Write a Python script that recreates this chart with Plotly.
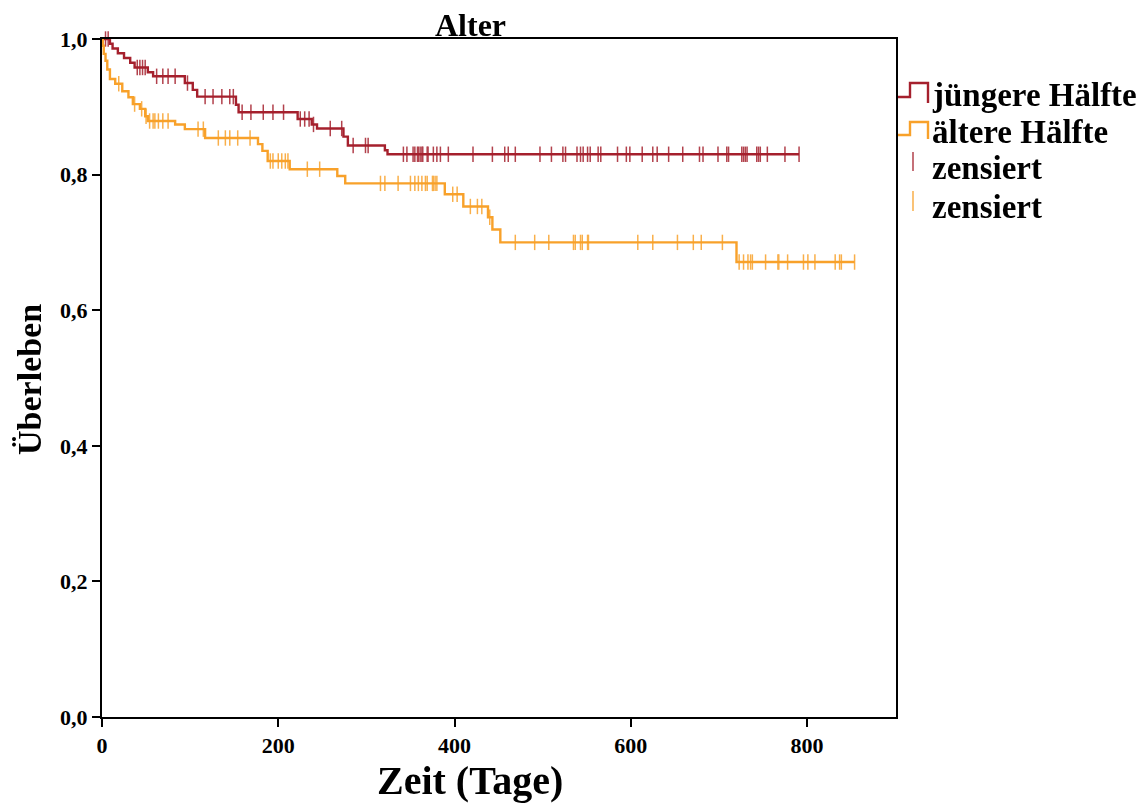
import numpy as np
import plotly.graph_objects as go

# ---------------- data ----------------
young_event_days = [0, 9, 12, 18, 25, 32, 37, 52, 58, 94, 103, 108, 152, 155, 222, 238, 244, 274, 279, 321, 324]
young_surv = [1.0, 0.993, 0.986, 0.979, 0.972, 0.965, 0.958, 0.951, 0.945, 0.935, 0.925, 0.915, 0.903, 0.892,
              0.882, 0.874, 0.868, 0.856, 0.843, 0.836, 0.830]
young_end = 791
young_censor = [4, 7, 40, 43, 46, 49, 62, 69, 75, 83, 97, 117, 126, 136, 145, 149, 159, 169, 183, 194, 206,
                225, 230, 235, 240, 259, 272, 285, 299, 302, 342, 346, 353, 355, 358, 359, 361, 363, 364, 369,
                370, 376, 380, 384, 393, 421, 443, 457, 461, 469, 497, 510, 523, 526, 539, 543, 546, 551, 554,
                563, 566, 585, 595, 599, 613, 625, 630, 643, 659, 678, 682, 699, 709, 711, 726, 728, 730, 732,
                743, 745, 747, 755, 775, 791]

old_event_days = [0, 1, 2, 4, 6, 9, 15, 23, 30, 35, 43, 49, 52, 83, 94, 117, 177, 182, 188, 213, 267, 276,
                  389, 410, 438, 443, 452, 720]
old_surv = [1.0, 0.99, 0.978, 0.968, 0.955, 0.941, 0.934, 0.923, 0.914, 0.904, 0.897, 0.886, 0.879, 0.874,
            0.867, 0.854, 0.845, 0.835, 0.820, 0.808, 0.798, 0.787, 0.771, 0.753, 0.737, 0.719, 0.700, 0.671]
old_end = 854
old_censor = [19, 37, 45, 50, 54, 58, 60, 64, 69, 75, 109, 115, 132, 140, 145, 154, 168, 191, 194, 200, 204,
              208, 211, 233, 247, 316, 321, 336, 350, 355, 359, 363, 367, 369, 375, 376, 378, 380, 398, 403,
              418, 426, 431, 440, 469, 491, 507, 535, 537, 543, 545, 551, 552, 608, 625, 653, 671, 680, 704,
              723, 728, 733, 736, 738, 753, 767, 768, 778, 796, 801, 809, 832, 837, 839, 854]

group_names = ["jüngere Hälfte", "ältere Hälfte"]
censor_name = "zensiert"
x_ticks = [0, 200, 400, 600, 800]
y_ticks = [0.0, 0.2, 0.4, 0.6, 0.8, 1.0]
y_tick_labels = ["0,0", "0,2", "0,4", "0,6", "0,8", "1,0"]

RED = "#A5202D"
ORANGE = "#F8A12A"
FONT = "Liberation Serif, Times New Roman, serif"


def surv_at(times, surv, t):
    idx = np.searchsorted(np.asarray(times), t, side="right") - 1
    return [surv[i] for i in idx]


fig = go.Figure()
for times, surv, end, cens, col, name in [
    (young_event_days, young_surv, young_end, young_censor, RED, group_names[0]),
    (old_event_days, old_surv, old_end, old_censor, ORANGE, group_names[1]),
]:
    xs = list(times) + [end]
    ys = list(surv) + [surv[-1]]
    fig.add_trace(go.Scatter(x=xs, y=ys, mode="lines", line=dict(color=col, width=2.4, shape="hv"),
                             name=name, showlegend=False, cliponaxis=False))
    fig.add_trace(go.Scatter(x=cens, y=surv_at(times, surv, cens), mode="markers",
                             marker=dict(symbol="line-ns", size=11, line=dict(color=col, width=1.5)),
                             opacity=0.85, name=censor_name, showlegend=False, cliponaxis=False))

# page offset (body margin) and plot area geometry in screen pixels
OFF = 8
W, H = 1144, 805
L, R, T, B = 102, 896, 39, 717


def px(x):
    return (x - L) / (R - L)


def py(y):
    return (B - y) / (B - T)


shapes = []
annotations = []
# legend glyphs
for col, y_low, y_top, y_end in [(RED, 97, 83, 103), (ORANGE, 135, 122, 139)]:
    path = f"M {px(898)},{py(y_low)} L {px(910)},{py(y_low)} L {px(910)},{py(y_top)} L {px(928)},{py(y_top)} L {px(928)},{py(y_end)}"
    shapes.append(dict(type="path", path=path, xref="paper", yref="paper", line=dict(color=col, width=2.4)))
for col, y0, y1 in [(RED, 152, 171), (ORANGE, 191, 211)]:
    shapes.append(dict(type="line", x0=px(913), x1=px(913), y0=py(y0), y1=py(y1), xref="paper", yref="paper",
                       line=dict(color=col, width=1.6), opacity=0.8))
for text, yc in [(group_names[0], 95), (group_names[1], 132), (censor_name, 168), (censor_name, 207)]:
    annotations.append(dict(text=text, x=px(930), y=py(yc), xref="paper", yref="paper", xanchor="left",
                            yanchor="middle", showarrow=False,
                            font=dict(family=FONT, size=33, color="black", weight="bold")))
# titles
annotations.append(dict(text="Alter", x=px(470), y=py(25), xref="paper", yref="paper", xanchor="center",
                        yanchor="middle", showarrow=False, font=dict(family=FONT, size=32, color="black", weight="bold")))
annotations.append(dict(text="Zeit (Tage)", x=px(470), y=py(780), xref="paper", yref="paper", xanchor="center",
                        yanchor="middle", showarrow=False, font=dict(family=FONT, size=40, color="black", weight="bold")))
annotations.append(dict(text="Überleben", x=px(30), y=py(380), xref="paper", yref="paper", xanchor="center",
                        yanchor="middle", textangle=-90, showarrow=False,
                        font=dict(family=FONT, size=34, color="black", weight="bold")))

fig.update_layout(
    width=W, height=H,
    margin=dict(l=L - OFF, r=W - R + OFF, t=T - OFF, b=H - B + OFF),
    paper_bgcolor="white", plot_bgcolor="white",
    showlegend=False,
    shapes=shapes, annotations=annotations,
    font=dict(family=FONT, color="black"),
)
fig.update_xaxes(range=[0, 901], tickvals=x_ticks, ticktext=[str(v) for v in x_ticks],
                 showgrid=False, zeroline=False, showline=True, linecolor="black", linewidth=2, mirror=True,
                 ticks="outside", ticklen=8, tickwidth=1.5, tickcolor="black",
                 tickfont=dict(family=FONT, size=22, color="black", weight="bold"))
fig.update_yaxes(range=[0, 1], tickvals=y_ticks, ticktext=y_tick_labels,
                 showgrid=False, zeroline=False, showline=True, linecolor="black", linewidth=2, mirror=True,
                 ticks="outside", ticklen=8, tickwidth=1.5, tickcolor="black",
                 tickfont=dict(family=FONT, size=22, color="black", weight="bold"))

fig.write_html("out.html")
